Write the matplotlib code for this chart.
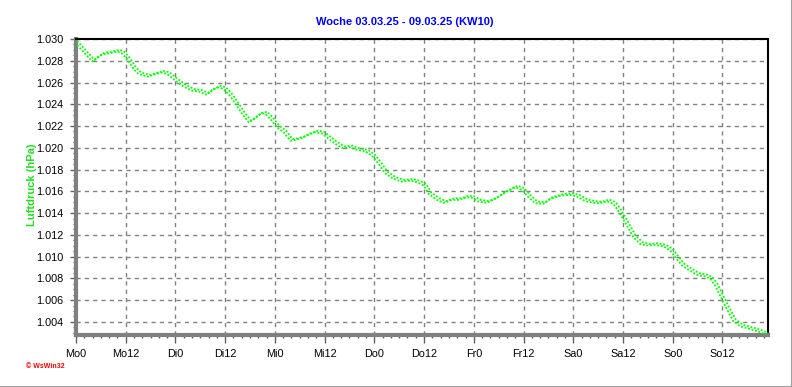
import matplotlib
matplotlib.use("Agg")
from matplotlib import pyplot as plt
from matplotlib import transforms
from matplotlib.lines import Line2D
from matplotlib.ticker import MultipleLocator, FuncFormatter

# Luftdruck KW10 (hours since Mo 00:00, hPa)
HOURS = [0.0, 4.2, 6.6, 8.2, 10.2, 11.4, 12.6, 14.2, 15.4, 17.8, 19.5, 21.1, 22.3,
         24.3, 26.3, 28.3, 29.9, 31.9, 33.1, 34.7, 35.9, 37.1, 38.8, 40.4, 42.0,
         43.2, 44.4, 45.8, 47.2, 48.8, 50.4, 52.0, 53.2, 54.8, 56.4, 58.1, 59.6,
         61.3, 62.9, 64.5, 66.5, 68.1, 70.1, 71.7, 73.3, 74.9, 76.9, 78.9, 81.0,
         82.6, 84.2, 85.4, 87.4, 89.0, 91.0, 92.6, 94.6, 95.8, 97.4, 99.4, 101.5,
         103.9, 106.3, 107.9, 109.5, 111.1, 113.1, 114.7, 116.6, 117.5, 119.6,
         121.2, 123.2, 125.2, 126.8, 128.4, 130.0, 131.6, 133.2, 134.8, 136.4,
         138.0, 140.1, 142.1, 143.7, 144.9, 146.5, 148.1, 150.1, 152.1, 153.3,
         154.5, 155.7, 157.3, 158.9, 160.6, 162.6, 164.6, 166.8]
PRESSURE = [1029.75, 1028.01, 1028.69, 1028.74, 1028.93, 1028.74, 1028.23, 1027.31,
            1026.85, 1026.61, 1026.85, 1027.00, 1026.85, 1026.24, 1025.69, 1025.32,
            1025.26, 1024.95, 1025.39, 1025.62, 1025.48, 1025.02, 1024.10, 1023.18,
            1022.41, 1022.72, 1023.12, 1023.24, 1022.72, 1021.95, 1021.50, 1020.73,
            1020.80, 1020.98, 1021.28, 1021.50, 1021.40, 1020.89, 1020.43, 1020.06,
            1020.12, 1019.88, 1019.75, 1019.36, 1018.60, 1017.73, 1017.22, 1016.97,
            1017.06, 1016.91, 1016.61, 1015.84, 1015.29, 1015.02, 1015.29, 1015.29,
            1015.53, 1015.48, 1015.14, 1015.02, 1015.39, 1015.99, 1016.45, 1016.21,
            1015.53, 1014.98, 1014.93, 1015.39, 1015.60, 1015.69, 1015.75, 1015.60,
            1015.17, 1015.02, 1014.98, 1015.17, 1014.93, 1014.01, 1012.94, 1011.86,
            1011.26, 1011.10, 1011.15, 1011.01, 1010.64, 1010.03, 1009.27, 1008.87,
            1008.41, 1008.26, 1008.05, 1007.43, 1006.51, 1005.29, 1004.16, 1003.67,
            1003.46, 1003.24, 1002.94]
TICK_LABELS = ["Mo0", "Mo12", "Di0", "Di12", "Mi0", "Mi12", "Do0", "Do12",
               "Fr0", "Fr12", "Sa0", "Sa12", "So0", "So12"]
TITLE = "Woche 03.03.25 - 09.03.25 (KW10)"

plt.rcParams['font.family'] = ['Liberation Sans', 'DejaVu Sans']

fig = plt.figure(figsize=(7.92, 3.87), dpi=100)
ax = fig.add_axes([76 / 792, 1 - 335 / 387, 692 / 792, 296 / 387])

# doubled dotted green trace
for dx, dy in [(1.2, 0.8), (-1.2, -0.8)]:
    tr = transforms.offset_copy(ax.transData, fig=fig, x=dx, y=dy, units='dots')
    ax.plot(HOURS, PRESSURE, color='#00ff00', lw=1.3, linestyle=(0, (1, 1)),
            transform=tr, zorder=3)

ax.set_xlim(0, 167)
ax.set_ylim(1002.8, 1030.0)

ax.set_xticks([12 * i for i in range(len(TICK_LABELS))])
ax.set_xticklabels(TICK_LABELS)
ax.xaxis.set_minor_locator(MultipleLocator(2))
ax.yaxis.set_major_locator(MultipleLocator(2))
ax.yaxis.set_minor_locator(MultipleLocator(0.5))
ax.yaxis.set_major_formatter(FuncFormatter(lambda v, pos: f"{v / 1000:.3f}"))

ax.tick_params(axis='both', which='major', labelsize=7.8, length=4, width=1,
               color='#606060', pad=5)
ax.tick_params(axis='both', which='minor', length=2, width=1, color='#606060')
ax.tick_params(axis='x', which='major', length=6, pad=4)

ax.grid(True, which='major', color='#808080', linestyle=(0, (3, 3)), lw=1)
ax.set_axisbelow(True)

for side in ['left', 'bottom']:
    ax.spines[side].set_color('#808080')
    ax.spines[side].set_linewidth(3)
for side in ['top', 'right']:
    ax.spines[side].set_color('black')
    ax.spines[side].set_linewidth(1.5)

fig.text(405 / 792, 1 - 22 / 387, TITLE, color='#0000ff', fontsize=8,
         fontweight='bold', ha='center', va='center')
fig.text(32 / 792, 1 - 185 / 387, "Luftdruck (hPa)", color='#22dd22', fontsize=8,
         fontweight='bold', rotation=90, ha='center', va='center')
fig.text(26 / 792, 1 - 367 / 387, "\u00a9 WsWin32", color='#ff0000', fontsize=5,
         fontweight='bold', ha='left', va='center')

# outer frame (right and bottom edges)
fig.add_artist(Line2D([0, 1], [0.5 / 387, 0.5 / 387], color='#a0a0a0', lw=1.5,
                      transform=fig.transFigure))
fig.add_artist(Line2D([1 - 0.5 / 792, 1 - 0.5 / 792], [0, 1], color='#a0a0a0', lw=1.5,
                      transform=fig.transFigure))

fig.savefig("out.png", dpi=100)
